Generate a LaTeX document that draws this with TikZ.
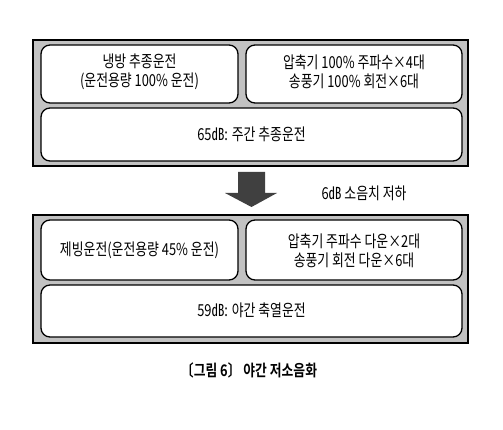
\documentclass[tikz,border=0pt]{standalone}
\usepackage{fontspec}
\setmainfont{Noto Sans CJK KR}[FakeStretch=0.78]
\newfontfamily\capfont{Noto Sans CJK KR}[BoldFont={Noto Sans CJK KR Bold},FakeStretch=0.8]
\begin{document}
\begin{tikzpicture}[x=1pt,y=-1pt,
  outerbox/.style={draw=black,line width=1.4pt,fill=black!24},
  innerbox/.style={draw=black,line width=1.3pt,fill=white,rounded corners=9pt},
  txt/.style={font=\fontsize{16.5}{19}\selectfont,align=center,inner sep=0pt},
  arrowfill/.style={fill=black!75,draw=none}]
\useasboundingbox (0,0) rectangle (503,430);
% top panel
\draw[outerbox] (33,40) rectangle (468,166);
\draw[innerbox] (41,45) rectangle (238,103);
\draw[innerbox] (246,45) rectangle (462,103);
\draw[innerbox] (41,108) rectangle (462,161);
\node[txt] (t1) at (139.5,72) {냉방 추종운전\\(운전용량 100\% 운전)};
\node[txt] (t2) at (354,72) {압축기 100\% 주파수×4대\\송풍기 100\% 회전×6대};
\node[txt] (t3) at (251.5,134.5) {65㏈: 주간 추종운전};
% arrow
\fill[arrowfill] (238,172) -- (265,172) -- (265,193) -- (277,193) -- (251.5,207) -- (225,193) -- (238,193) -- cycle;
\node[txt] (lbl) at (364,193) {6㏈ 소음치 저하};
% bottom panel
\draw[outerbox] (33,215) rectangle (468,343);
\draw[innerbox] (41,220) rectangle (238,280);
\draw[innerbox] (246,220) rectangle (462,280);
\draw[innerbox] (41,285) rectangle (462,337);
\node[txt] (b1) at (139.5,250.5) {제빙운전(운전용량 45\% 운전)};
\node[txt] (b2) at (354,250.5) {압축기 주파수 다운×2대\\송풍기 회전 다운×6대};
\node[txt] (b3) at (251.5,310.5) {59㏈: 야간 축열운전};
% caption
\node[font=\capfont\bfseries\fontsize{16}{18}\selectfont,inner sep=0pt] (cap) at (249,370.5) {〔그림 6〕 야간 저소음화};
\end{tikzpicture}
\end{document}
